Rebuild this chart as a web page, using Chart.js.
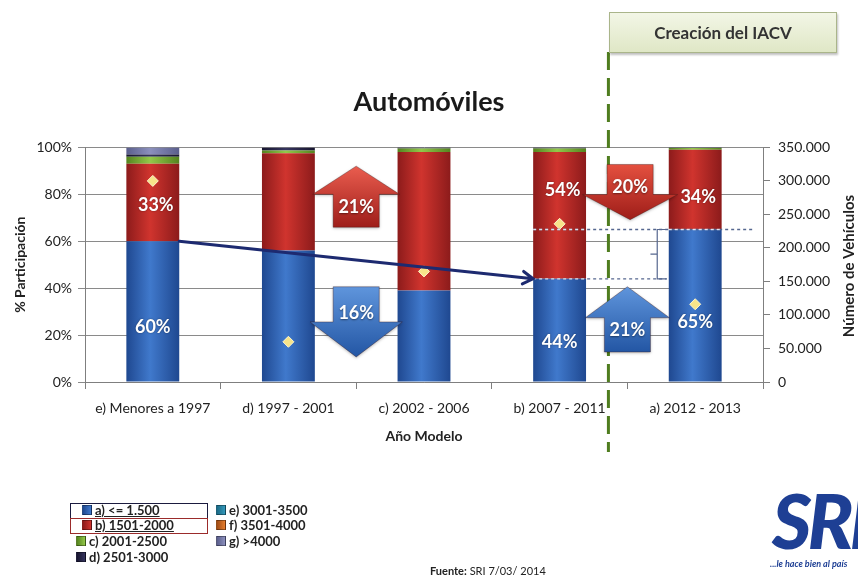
<!DOCTYPE html>
<html lang="es">

<head>
    <meta charset="UTF-8">
    <title>Automóviles</title>
    <style>
        body { margin: 0; background: #fff; font-family: Lato, sans-serif; }
        #wrap { position: relative; width: 858px; height: 578px; overflow: hidden; background: #fff; }
        #myChart { position: absolute; left: 0; top: 0; }
        #iacv {
            position: absolute; left: 609px; top: 12px; width: 226px; height: 39px;
            border: 1px solid #aab58a; box-shadow: 1px 2px 2px rgba(0, 0, 0, 0.25);
            background: linear-gradient(#f3f6e6, #dfe7c6);
            font: bold 17px Lato, sans-serif; color: #333; text-align: center; line-height: 39px;
        }
        .ley { position: absolute; font: bold 13px Lato, sans-serif; color: #222; white-space: nowrap; line-height: 14px; }
        .ley i { display: inline-block; width: 8px; height: 8px; margin-right: 3px; border: 1px solid rgba(0, 0, 0, 0.35); vertical-align: 0px; }
        .marco { position: absolute; height: 14px; }
        #fuente { position: absolute; left: 430px; top: 564px; font: 11px Lato, sans-serif; color: #222; }
        #logo { position: absolute; left: 770px; top: 482px; color: #1e3f94; white-space: nowrap; }
        #logo .sri { display: block; font: italic 900 76px Lato, sans-serif; letter-spacing: -4px; line-height: 76px; margin-left: 2px; }
        #logo .lema { display: block; font: italic bold 9px Lato, sans-serif; margin-top: 0px; }
    </style>
</head>

<body>
    <div id="wrap">
        <canvas id="myChart" width="858" height="578"></canvas>
        <div id="iacv">Creación del IACV</div>
        <div id="leyenda"></div>
        <div id="fuente"><b>Fuente:</b> SRI 7/03/ 2014</div>
        <div id="logo"><span class="sri">SRI</span><span class="lema">...le hace bien al país</span></div>
    </div>

    <script src="https://cdn.jsdelivr.net/npm/chart.js"></script>
    <script>
        const categorias = ['e) Menores a 1997', 'd) 1997 - 2001', 'c) 2002 - 2006', 'b) 2007 - 2011', 'a) 2012 - 2013'];
        const cilindraje = ['a) <= 1.500', 'b) 1501-2000', 'c) 2001-2500', 'd) 2501-3000', 'e) 3001-3500', 'f) 3501-4000', 'g) >4000'];

        // % de participación por rango de cilindraje, de abajo hacia arriba
        const pctA = [60, 56, 39, 44, 65];
        const pctB = [33, 41.5, 59, 54, 34];
        const pctC = [3, 1.2, 1.5, 1.5, 0.7];
        const pctD = [1, 1.3, 0.5, 0.5, 0.3];
        const pctE = [0, 0, 0, 0, 0];
        const pctF = [0, 0, 0, 0, 0];
        const pctG = [3, 0, 0, 0, 0];

        // número de vehículos (eje derecho)
        const vehiculos = [300000, 60000, 165000, 236000, 116000];

        const ticksPct = [0, 20, 40, 60, 80, 100];
        const ticksVeh = [0, 50000, 100000, 150000, 200000, 250000, 300000, 350000];

        // qué barras llevan el porcentaje escrito
        const conEtiqueta = [true, false, false, true, true];

        const series = [pctA, pctB, pctC, pctD, pctE, pctF, pctG];
        const colores = [
            ['#1f4890', '#4079cc'],
            ['#8c1b1b', '#d0342e'],
            ['#55841f', '#93c84a'],
            ['#17152f', '#36345e'],
            ['#1b6a86', '#3499bb'],
            ['#a04c16', '#e67d2c'],
            ['#5a5e8c', '#8c90bd']
        ];
        const anchoBarra = 0.39;

        // flechas de variación (x en categorías, y en %)
        const flechas = [
            { at: 1.5, tail: 66, base: 80, tip: 92, head: 0.32, shaft: 0.17, c0: '#ea5d4f', c1: '#9e1d19', text: '21%', ty: 74.5 },
            { at: 1.5, tail: 40.6, base: 25.6, tip: 10.7, head: 0.34, shaft: 0.17, c0: '#5f95dc', c1: '#2356a4', text: '16%', ty: 29.5 },
            { at: 3.52, tail: 92.7, base: 79.9, tip: 69.2, head: 0.35, shaft: 0.17, c0: '#e4503f', c1: '#9e1d19', text: '20%', ty: 83 },
            { at: 3.5, tail: 12.8, base: 27.4, tip: 40.6, head: 0.31, shaft: 0.17, c0: '#5f95dc', c1: '#2356a4', text: '21%', ty: 22.2 }
        ];
        const iacvX = 3.36;

        function rellenoBarra(c0, c1) {
            return function (ctx) {
                const xs = ctx.chart.scales.x;
                if (!xs || ctx.dataIndex === undefined) return c1;
                const cx = xs.getPixelForValue(ctx.dataIndex);
                const half = (xs.getPixelForValue(1) - xs.getPixelForValue(0)) * anchoBarra / 2;
                if (!isFinite(cx) || !isFinite(half)) return c1;
                const g = ctx.chart.ctx.createLinearGradient(cx - half, 0, cx + half, 0);
                g.addColorStop(0, c0);
                g.addColorStop(0.45, c1);
                g.addColorStop(1, c0);
                return g;
            };
        }

        let v_datasets = [];
        for (let i = 0; i < series.length; i++) {
            v_datasets.push({
                label: cilindraje[i],
                data: series[i],
                backgroundColor: rellenoBarra(colores[i][0], colores[i][1]),
                borderWidth: 0,
                barPercentage: anchoBarra,
                categoryPercentage: 1,
                order: 1
            });
        }
        v_datasets.push({
            type: 'line',
            label: 'Número de Vehículos',
            data: vehiculos,
            yAxisID: 'y2',
            showLine: false,
            pointStyle: 'rectRot',
            pointRadius: 5.5,
            pointBackgroundColor: '#f7e48a',
            pointBorderColor: '#fff7cf',
            pointBorderWidth: 1,
            order: 0
        });

        // leyenda en dos columnas
        const ley = document.getElementById('leyenda');
        const filas = [510, 525, 541, 557, 510, 525, 541];
        const colX = [82, 82, 76, 76, 216, 216, 216];
        for (let i = 0; i < cilindraje.length; i++) {
            const d = document.createElement('div');
            d.className = 'ley';
            d.style.left = colX[i] + 'px';
            d.style.top = (filas[i] - 7) + 'px';
            const sq = document.createElement('i');
            sq.style.background = 'linear-gradient(90deg,' + colores[i][0] + ',' + colores[i][1] + ')';
            d.appendChild(sq);
            const t = document.createElement('span');
            t.textContent = cilindraje[i];
            if (i < 2) t.style.textDecoration = 'underline';
            d.appendChild(t);
            ley.appendChild(d);
        }
        const marcos = [['#1b1b3f', 503], ['#9b2b2b', 518]];
        for (let m of marcos) {
            const b = document.createElement('div');
            b.className = 'marco';
            b.style.left = '70px';
            b.style.width = '136px';
            b.style.top = m[1] + 'px';
            b.style.border = '1.5px solid ' + m[0];
            ley.appendChild(b);
        }

        const anotaciones = {
            id: 'anotaciones',
            afterDatasetsDraw(chart) {
                const ctx = chart.ctx;
                const xs = chart.scales.x, ys = chart.scales.y;
                const paso = xs.getPixelForValue(1) - xs.getPixelForValue(0);
                const half = paso * anchoBarra / 2;
                const px = (v) => xs.getPixelForValue(0) + v * paso;

                // línea de creación del IACV
                ctx.save();
                ctx.strokeStyle = '#4f7d1f';
                ctx.lineWidth = 3;
                ctx.setLineDash([18, 8]);
                ctx.beginPath();
                ctx.moveTo(px(iacvX), 52);
                ctx.lineTo(px(iacvX), 452);
                ctx.stroke();
                ctx.restore();

                // líneas punteadas entre b) y a)
                const y44 = ys.getPixelForValue(pctA[3]);
                const y65 = ys.getPixelForValue(pctA[4]);
                const x4l = xs.getPixelForValue(3) - half;
                const x5r = xs.getPixelForValue(4) + half;
                ctx.save();
                ctx.lineWidth = 1.3;
                ctx.setLineDash([3, 3]);
                ctx.strokeStyle = '#56678f';
                ctx.beginPath();
                ctx.moveTo(x4l, y44); ctx.lineTo(px(3.79), y44);
                ctx.moveTo(x4l, y65); ctx.lineTo(px(4.43), y65);
                ctx.stroke();
                ctx.strokeStyle = 'rgba(235,238,248,0.9)';
                ctx.beginPath();
                ctx.moveTo(x4l, y44); ctx.lineTo(x4l + 2 * half, y44);
                ctx.moveTo(x4l, y65); ctx.lineTo(x4l + 2 * half, y65);
                ctx.moveTo(x5r - 2 * half, y65); ctx.lineTo(x5r, y65);
                ctx.stroke();
                ctx.setLineDash([]);
                ctx.strokeStyle = '#56678f';
                ctx.lineWidth = 1.2;
                const bx = px(3.72);
                ctx.beginPath();
                ctx.moveTo(px(3.79), y65); ctx.lineTo(bx, y65); ctx.lineTo(bx, y44); ctx.lineTo(px(3.79), y44);
                ctx.moveTo(bx, (y44 + y65) / 2); ctx.lineTo(px(3.67), (y44 + y65) / 2);
                ctx.stroke();
                ctx.restore();

                // tendencia de a) entre la primera y la cuarta barra
                const x1 = xs.getPixelForValue(0) + half, y1 = ys.getPixelForValue(pctA[0]);
                const x2 = xs.getPixelForValue(3) - half, y2 = ys.getPixelForValue(pctA[3]);
                const ang = Math.atan2(y2 - y1, x2 - x1);
                ctx.save();
                ctx.strokeStyle = '#1d2a70';
                ctx.lineWidth = 3;
                ctx.lineCap = 'round';
                ctx.beginPath();
                ctx.moveTo(x1, y1);
                ctx.lineTo(x2, y2);
                ctx.moveTo(x2 - 12 * Math.cos(ang - 0.55), y2 - 12 * Math.sin(ang - 0.55));
                ctx.lineTo(x2, y2);
                ctx.lineTo(x2 - 12 * Math.cos(ang + 0.55), y2 - 12 * Math.sin(ang + 0.55));
                ctx.stroke();
                ctx.restore();

                // porcentajes dentro de las barras
                ctx.save();
                ctx.font = 'bold 18px Lato, sans-serif';
                ctx.fillStyle = '#fff';
                ctx.textAlign = 'center';
                ctx.textBaseline = 'middle';
                ctx.shadowColor = 'rgba(0,0,0,0.45)';
                ctx.shadowBlur = 2;
                const posRoja = [0.47, 0, 0, 0.70, 0.40];
                for (let i = 0; i < categorias.length; i++) {
                    if (!conEtiqueta[i]) continue;
                    const cx = xs.getPixelForValue(i);
                    ctx.fillText(Math.round(pctA[i]) + '%', cx, ys.getPixelForValue(pctA[i] * 0.39));
                    ctx.fillText(Math.round(pctB[i]) + '%', cx + 3, ys.getPixelForValue(pctA[i] + pctB[i] * posRoja[i]));
                }
                ctx.restore();

                // flechas de variación
                for (let f of flechas) {
                    const cx = px(f.at);
                    const hw = f.head * paso, sw = f.shaft * paso;
                    const yT = ys.getPixelForValue(f.tail), yB = ys.getPixelForValue(f.base), yP = ys.getPixelForValue(f.tip);
                    const g = ctx.createLinearGradient(0, Math.min(yT, yP), 0, Math.max(yT, yP));
                    g.addColorStop(0, f.c0);
                    g.addColorStop(1, f.c1);
                    ctx.save();
                    ctx.beginPath();
                    ctx.moveTo(cx - sw, yT);
                    ctx.lineTo(cx - sw, yB);
                    ctx.lineTo(cx - hw, yB);
                    ctx.lineTo(cx, yP);
                    ctx.lineTo(cx + hw, yB);
                    ctx.lineTo(cx + sw, yB);
                    ctx.lineTo(cx + sw, yT);
                    ctx.closePath();
                    ctx.shadowColor = 'rgba(0,0,0,0.3)';
                    ctx.shadowBlur = 3;
                    ctx.shadowOffsetY = 1;
                    ctx.fillStyle = g;
                    ctx.fill();
                    ctx.shadowColor = 'transparent';
                    ctx.strokeStyle = 'rgba(60,20,20,0.35)';
                    ctx.lineWidth = 1;
                    ctx.stroke();
                    ctx.font = 'bold 18px Lato, sans-serif';
                    ctx.fillStyle = '#fff';
                    ctx.textAlign = 'center';
                    ctx.textBaseline = 'middle';
                    ctx.shadowColor = 'rgba(0,0,0,0.45)';
                    ctx.shadowBlur = 2;
                    ctx.fillText(f.text, cx, ys.getPixelForValue(f.ty));
                    ctx.restore();
                }
            },
            afterDraw(chart) {
                const ctx = chart.ctx;
                ctx.save();
                ctx.translate(849, 266);
                ctx.rotate(-Math.PI / 2);
                ctx.font = 'bold 15px Lato, sans-serif';
                ctx.fillStyle = '#222';
                ctx.textAlign = 'center';
                ctx.textBaseline = 'middle';
                ctx.fillText('Número de Vehículos', 0, 0);
                ctx.restore();
            }
        };

        const ctx = document.getElementById('myChart');
        new Chart(ctx, {
            type: 'bar',
            data: {
                labels: categorias,
                datasets: v_datasets
            },
            options: {
                responsive: false,
                animation: false,
                layout: { padding: { top: 0, left: 0, right: 0, bottom: 133 } },
                plugins: {
                    legend: { display: false },
                    tooltip: { enabled: false },
                    title: {
                        display: true,
                        text: 'Automóviles',
                        color: '#1a1a1a',
                        font: { family: 'Lato', size: 27, weight: 'bold' },
                        padding: { top: 86, bottom: 29 }
                    }
                },
                scales: {
                    x: {
                        stacked: true,
                        grid: { drawOnChartArea: false, drawTicks: true, tickLength: 7, color: '#7f7f7f' },
                        border: { color: '#7f7f7f', width: 1 },
                        ticks: { color: '#222', padding: 11, font: { family: 'Lato', size: 14 } },
                        title: { display: true, text: 'Año Modelo', color: '#222', font: { family: 'Lato', size: 14, weight: 'bold' }, padding: 0 },
                        afterFit(scale) { scale.height = 63; }
                    },
                    y: {
                        stacked: true,
                        min: 0,
                        max: 100,
                        afterBuildTicks(scale) { scale.ticks = ticksPct.map(v => ({ value: v })); },
                        grid: { color: '#8a8a8a', tickLength: 7 },
                        border: { color: '#7f7f7f', width: 1 },
                        ticks: { color: '#222', padding: 6, font: { family: 'Lato', size: 14 }, callback: v => v + '%' },
                        title: { display: true, text: '% Participación', color: '#222', font: { family: 'Lato', size: 14, weight: 'bold' }, padding: { top: 12, bottom: 0 } },
                        afterFit(scale) { scale.width = 85; }
                    },
                    y2: {
                        position: 'right',
                        stacked: false,
                        min: 0,
                        max: 350000,
                        afterBuildTicks(scale) { scale.ticks = ticksVeh.map(v => ({ value: v })); },
                        grid: { drawOnChartArea: false, tickLength: 7, color: '#7f7f7f' },
                        border: { color: '#7f7f7f', width: 1 },
                        ticks: {
                            color: '#222', padding: 8, font: { family: 'Lato', size: 14 },
                            callback: v => String(v).replace(/\B(?=(\d{3})+(?!\d))/g, '.')
                        },
                        afterFit(scale) { scale.width = 95; }
                    }
                }
            },
            plugins: [anotaciones]
        });
    </script>
</body>

</html>
